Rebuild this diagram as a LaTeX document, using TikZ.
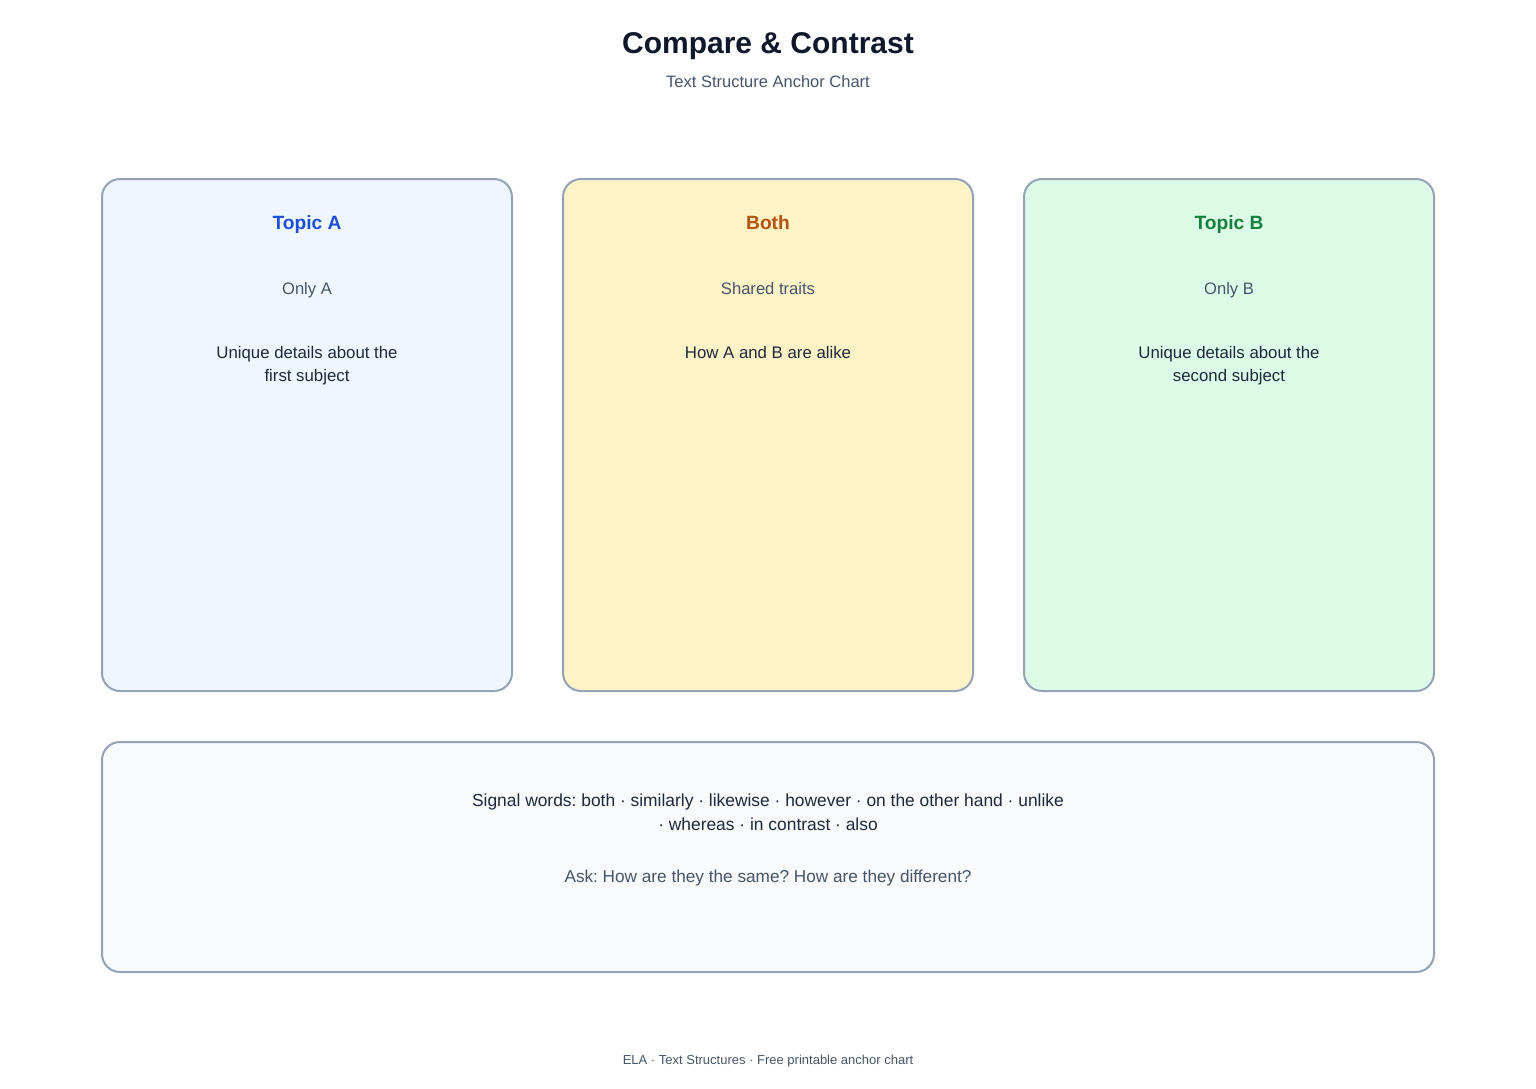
\documentclass[tikz,border=0pt]{standalone}
\usepackage{fontspec}
\setmainfont{Liberation Sans}
\frenchspacing
\definecolor{ink}{HTML}{0F172A}
\definecolor{body}{HTML}{1E293B}
\definecolor{muted}{HTML}{475569}
\definecolor{edge}{HTML}{94A3B8}
\definecolor{fillA}{HTML}{EFF6FF}
\definecolor{fillBoth}{HTML}{FEF3C7}
\definecolor{fillB}{HTML}{DCFCE7}
\definecolor{fillSig}{HTML}{F8FAFC}
\definecolor{blueT}{HTML}{1D4ED8}
\definecolor{orangeT}{HTML}{B45309}
\definecolor{greenT}{HTML}{15803D}
\tikzset{
  panel/.style={draw=edge, line width=1pt, rounded corners=9pt, inner sep=0pt},
  colpanel/.style={panel, minimum width=205pt, minimum height=256pt},
  txt/.style={anchor=base, inner sep=0pt},
  titletxt/.style={txt, font=\fontsize{15pt}{18pt}\selectfont\bfseries, text=ink},
  subtxt/.style={txt, font=\fontsize{8.25pt}{10pt}\selectfont, text=muted},
  headtxt/.style={txt, font=\fontsize{9.6pt}{12pt}\selectfont\bfseries},
  labeltxt/.style={txt, font=\fontsize{8.3pt}{10pt}\selectfont, text=muted},
  bodytxt/.style={txt, font=\fontsize{8.4pt}{10pt}\selectfont, text=body},
  sigtxt/.style={txt, font=\fontsize{8.7pt}{10pt}\selectfont, text=body},
  asktxt/.style={txt, font=\fontsize{8.6pt}{10pt}\selectfont, text=muted},
  foottxt/.style={txt, font=\fontsize{6.5pt}{8pt}\selectfont, text=muted},
}
\begin{document}
\begin{tikzpicture}[x=0.5pt, y=-0.5pt]
\fill[white] (0,0) rectangle (1536,1088);
\useasboundingbox (0,0) rectangle (1536,1088);

\node[titletxt] (title) at (768,53) {Compare \& Contrast};
\node[subtxt] (subtitle) at (768,87) {Text Structure Anchor Chart};

\node[colpanel, fill=fillA] (boxA) at (307,435) {};
\node[colpanel, fill=fillBoth] (boxBoth) at (768,435) {};
\node[colpanel, fill=fillB] (boxB) at (1229,435) {};

\node[headtxt, text=blueT] (headA) at (307,229) {Topic A};
\node[labeltxt] (labA) at (307,294) {Only A};
\node[bodytxt] (bodyA1) at (307,358) {Unique details about the};
\node[bodytxt] (bodyA2) at (307,381) {first subject};

\node[headtxt, text=orangeT] (headBoth) at (768,229) {Both};
\node[labeltxt] (labBoth) at (768,294) {Shared traits};
\node[bodytxt] (bodyBoth) at (768,358) {How A and B are alike};

\node[headtxt, text=greenT] (headB) at (1229,229) {Topic B};
\node[labeltxt] (labB) at (1229,294) {Only B};
\node[bodytxt] (bodyB1) at (1229,358) {Unique details about the};
\node[bodytxt] (bodyB2) at (1229,381) {second subject};

\node[panel, fill=fillSig, minimum width=666pt, minimum height=115pt] (signal) at (768,857) {};
\node[sigtxt] (sig1) at (768,806) {Signal words: both · similarly · likewise · however · on the other hand · unlike};
\node[sigtxt] (sig2) at (768,830) {· whereas · in contrast · also};
\node[asktxt] (ask) at (768,882) {Ask: How are they the same? How are they different?};

\node[foottxt] (footer) at (768,1064) {ELA · Text Structures · Free printable anchor chart};
\end{tikzpicture}
\end{document}
